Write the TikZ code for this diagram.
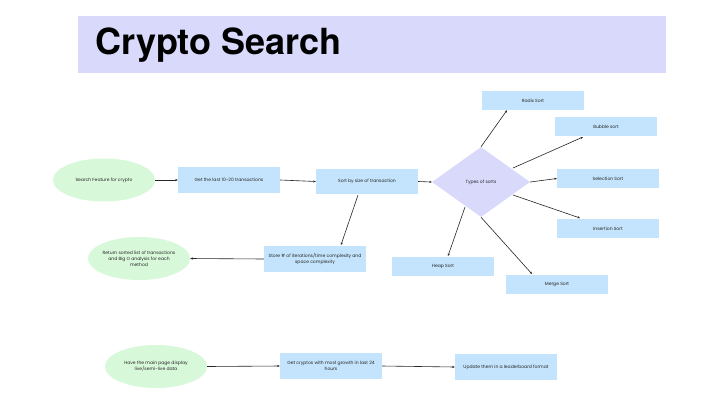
\documentclass[tikz,border=0pt]{standalone}
\usepackage{fontspec}
\setmainfont{Poppins}
\newfontfamily\titlefont{TeX Gyre Heros}
\usetikzlibrary{shapes.geometric,arrows.meta}
\hyphenpenalty=10000
\exhyphenpenalty=10000
\definecolor{boxblue}{HTML}{C3E4FC}
\definecolor{lav}{HTML}{D9D9FC}
\definecolor{mint}{HTML}{D8F8DA}
\tikzset{
  every node/.style={font=\fontsize{4.5}{5.8}\selectfont, text=black!85, inner sep=1pt},
  rbox/.style={rectangle, fill=boxblue, minimum width=102pt, align=center},
  oval/.style={ellipse, fill=mint, minimum width=102pt, minimum height=43pt, align=center, inner xsep=-14pt, inner ysep=-6pt},
  conn/.style={-{Stealth[length=2.6pt,width=2.2pt]}, line width=0.6pt, black!85},
}
\begin{document}
\begin{tikzpicture}[x=1pt,y=-1pt]
\useasboundingbox[fill=white] (0,0) rectangle (720,405);
\node[fill=lav, minimum width=588pt, minimum height=57pt, anchor=north west, inner sep=0pt] (banner) at (78,16) {};
\node[anchor=west, font=\fontsize{36}{40}\selectfont\titlefont\bfseries, text=black, inner sep=0pt] (title) at (95,45) {Crypto Search};

\node[oval] (search) at (104,180) {Search Feature for crypto};
\node[rbox, minimum height=26pt] (last) at (229,180) {Get the last 10-20 transactions};
\node[rbox, minimum height=25pt] (size) at (367,181.5) {Sort by size of transaction};
\node[diamond, fill=lav, minimum width=98pt, minimum height=70pt, inner sep=0pt, aspect=1.4] (types) at (481,182) {Types of sorts};
\node[rbox, minimum height=19pt] (radix) at (533,100.5) {Radix Sort};
\node[rbox, minimum height=19pt] (bubble) at (606,126.5) {Bubble sort};
\node[rbox, minimum height=19pt] (selection) at (608,178.5) {Selection Sort};
\node[rbox, minimum height=19pt] (insertion) at (608,228.5) {Insertion Sort};
\node[rbox, minimum height=19pt] (heap) at (443,266.5) {Heap Sort};
\node[rbox, minimum height=19pt] (merge) at (557,284.5) {Merge Sort};
\node[rbox, minimum height=26pt] (store) at (315,259) {Store \# of iterations/time complexity and\\space complexity};
\node[oval] (return) at (139,258.5) {Return sorted list of transactions\\and Big O analysis for each\\method};

\node[oval] (main) at (156,366.5) {Have the main page display\\live/semi-live data};
\node[rbox, minimum height=26pt] (growth) at (331,366) {Get cryptos with most growth in last 24\\hours};
\node[rbox, minimum height=26pt] (leader) at (506,367) {Update them in a leaderboard format};

\draw[conn] (search.east) -- (last.west);
\draw[conn] (last.east) -- (size.west);
\draw[conn] (size.east) -- (types.west);
\draw[conn] (types.north) -- (radix.south -| 507,0);
\draw[conn] (513,168) coordinate (b0) -- (583,137) coordinate (b1);
\draw[conn] (types.east) -- (selection.west);
\draw[conn] (513,195) coordinate (i0) -- (580,218) coordinate (i1);
\draw[conn] (465,207) coordinate (h0) -- (448,256) coordinate (h1);
\draw[conn] (types.south) -- (532,274) coordinate (m1);
\draw[conn] (358,195) coordinate (z0) -- (341,245) coordinate (z1);
\draw[conn] (store.west) -- (return.east);
\draw[conn] (main.east) -- (growth.west);
\draw[conn] (growth.east) -- (leader.west);
\end{tikzpicture}
\end{document}
